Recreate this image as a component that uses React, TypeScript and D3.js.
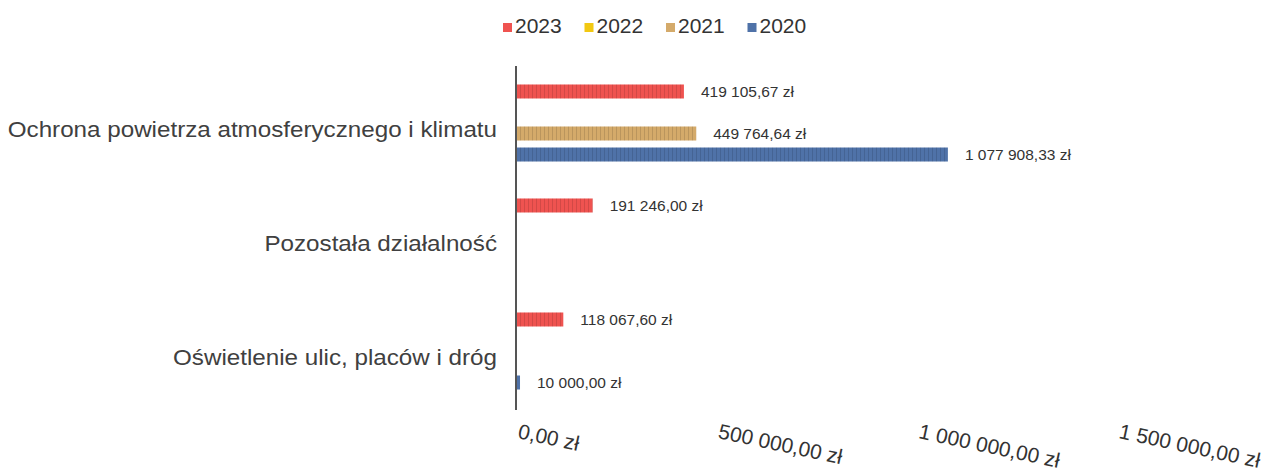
import React from "react";
import * as d3 from "d3";

const categories = [
  "Ochrona powietrza atmosferycznego i klimatu",
  "Pozostała działalność",
  "Oświetlenie ulic, placów i dróg",
];
const years = ["2023", "2022", "2021", "2020"];
const values2023: (number | null)[] = [419105.67, 191246.0, 118067.6];
const values2022: (number | null)[] = [null, null, null];
const values2021: (number | null)[] = [449764.64, null, null];
const values2020: (number | null)[] = [1077908.33, null, 10000.0];
const xTicks = [0, 500000, 1000000, 1500000];
const colors = ["#ef5350", "#f2c811", "#d4aa6a", "#4f72a8"];

const seriesValues = [values2023, values2022, values2021, values2020];

function fmt(v: number): string {
  const [i, d] = v.toFixed(2).split(".");
  const grouped = i.replace(/\B(?=(\d{3})+(?!\d))/g, " ");
  return `${grouped},${d} zł`;
}

export default function App() {
  const W = 1267;
  const H = 471;
  const x = d3.scaleLinear().domain([0, 1500000]).range([516, 1117]);
  const y = d3.scaleBand<string>().domain(categories).range([66, 408]).paddingInner(0).paddingOuter(0);
  const yi = d3
    .scaleBand<string>()
    .domain(years)
    .range([0, y.bandwidth()])
    .paddingInner(1 / 3)
    .paddingOuter(0.88);
  const font = "'Liberation Sans', Arial, sans-serif";

  return (
    <svg width={W} height={H} style={{ position: "absolute", left: 0, top: 0, background: "#fff" }}>
      <defs>
        <pattern id="stripes" width="4" height="10" patternUnits="userSpaceOnUse">
          <rect x="0" y="0" width="1" height="10" fill="#000" opacity="0.12" />
        </pattern>
      </defs>
      <rect x={0} y={0} width={W} height={H} fill="#fff" />
      {/* legend */}
      {years.map((yr, i) => (
        <g key={yr} transform={`translate(${503 + i * 81.5},0)`}>
          <rect x={0} y={23} width={9} height={9} fill={colors[i]} />
          <text x={12} y={33} fontFamily={font} fontSize={21} fill="#333">
            {yr}
          </text>
        </g>
      ))}
      {/* bars */}
      {categories.map((c, ci) => (
        <g key={c}>
          {years.map((yr, si) => {
            const v = seriesValues[si][ci];
            if (v == null) return null;
            const by = (y(c) as number) + (yi(yr) as number);
            const w = Math.max(x(v) - x(0), 3);
            return (
              <g key={yr}>
                <rect x={x(0)} y={by} width={w} height={yi.bandwidth()} fill={colors[si]} />
                <rect x={x(0)} y={by} width={w} height={yi.bandwidth()} fill="url(#stripes)" />
                <text
                  x={x(0) + w + 17}
                  y={by + yi.bandwidth() / 2 + 1}
                  dominantBaseline="middle"
                  fontFamily={font}
                  fontSize={15.5}
                  fill="#333"
                >
                  {fmt(v)}
                </text>
              </g>
            );
          })}
          <g transform={`translate(497,${(y(c) as number) + y.bandwidth() / 2 + 8}) scale(1.1,1)`}>
            <text
              x={0}
              y={0}
              textAnchor="end"
              dominantBaseline="middle"
              fontFamily={font}
              fontSize={22}
              fill="#404040"
            >
              {c}
            </text>
          </g>
        </g>
      ))}
      {/* axis line */}
      <line x1={x(0)} x2={x(0)} y1={66} y2={410} stroke="#555" strokeWidth={2} />
      {/* tick labels */}
      {xTicks.map((t) => (
        <text
          key={t}
          transform={`translate(${x(t) + 1},${438}) rotate(12)`}
          fontFamily={font}
          fontSize={21}
          fill="#333"
        >
          {fmt(t)}
        </text>
      ))}
    </svg>
  );
}
